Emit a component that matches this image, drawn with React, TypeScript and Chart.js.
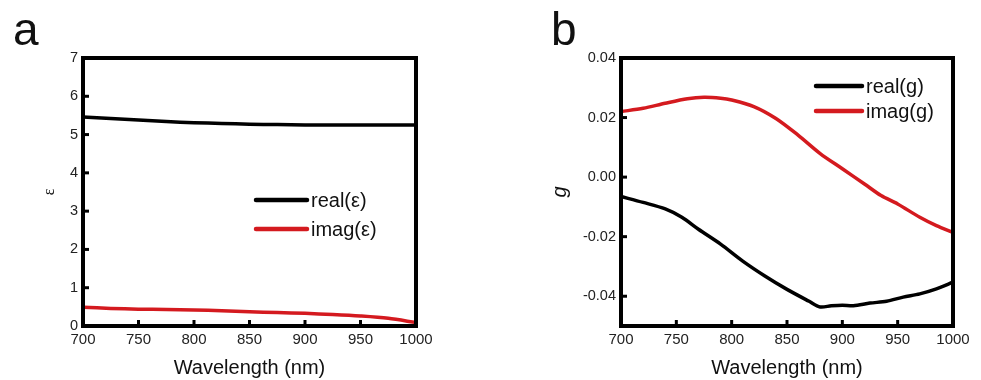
import React, { useEffect, useRef } from 'react';
import { Chart, registerables } from 'chart.js';

Chart.register(...registerables);

// Panel a: permittivity
const wavelengthsA = [700, 725, 750, 775, 800, 825, 850, 875, 900, 925, 950, 975, 1000];
const realEpsilon = [5.46, 5.42, 5.38, 5.34, 5.31, 5.29, 5.27, 5.26, 5.25, 5.25, 5.25, 5.25, 5.25];
const imagEpsilon = [0.49, 0.46, 0.44, 0.43, 0.42, 0.40, 0.37, 0.35, 0.33, 0.30, 0.26, 0.20, 0.09];
const xTicks = [700, 750, 800, 850, 900, 950, 1000];
const yTicksA = [0, 1, 2, 3, 4, 5, 6, 7];

// Panel b: g
const wavelengthsB = [700, 720, 740, 755, 770, 790, 810, 830, 850, 870, 880, 890, 900, 910, 925, 940, 955, 970, 985, 1000];
const realG = [-0.0065, -0.0085, -0.0107, -0.0135, -0.0175, -0.0225, -0.0282, -0.0332, -0.0377, -0.0417, -0.0436, -0.0432, -0.043, -0.0432, -0.0423, -0.0417, -0.0403, -0.0392, -0.0375, -0.0353];
const wavelengthsBi = [700, 720, 740, 760, 775, 790, 800, 820, 840, 860, 880, 900, 920, 935, 950, 970, 985, 1000];
const imagG = [0.022, 0.0231, 0.0248, 0.0263, 0.0268, 0.0265, 0.0259, 0.0237, 0.0197, 0.0141, 0.0079, 0.0028, -0.0023, -0.0062, -0.009, -0.0135, -0.0163, -0.0186];
const yTicksB = [-0.04, -0.02, 0.0, 0.02, 0.04];

const SANS = '"Liberation Sans", Arial, sans-serif';
const RED = '#d41a1f';

const framePlugin = {
  id: 'frame',
  afterDatasetsDraw(chart: any, _args: any, opts: any) {
    const { ctx, chartArea, scales } = chart;
    const { left, top, right, bottom } = chartArea;
    ctx.save();
    ctx.strokeStyle = '#000';
    ctx.lineWidth = 4;
    ctx.strokeRect(left, top, right - left, bottom - top);
    ctx.lineWidth = 3;
    scales.x.ticks.forEach((t: any) => {
      const px = scales.x.getPixelForValue(t.value);
      ctx.beginPath();
      ctx.moveTo(px, bottom);
      ctx.lineTo(px, bottom - 6);
      ctx.stroke();
    });
    scales.y.ticks.forEach((t: any) => {
      const py = scales.y.getPixelForValue(t.value);
      ctx.beginPath();
      ctx.moveTo(left, py);
      ctx.lineTo(left + 6, py);
      ctx.stroke();
    });
    // panel letter
    ctx.fillStyle = '#111';
    ctx.font = `46px ${SANS}`;
    ctx.textBaseline = 'alphabetic';
    ctx.textAlign = 'left';
    ctx.fillText(opts.letter, 13, 45);
    // legend
    const lg = opts.legend;
    ctx.font = `20px ${SANS}`;
    ctx.textBaseline = 'middle';
    ctx.lineCap = 'round';
    chart.data.datasets.forEach((ds: any, i: number) => {
      const y = lg.y + i * lg.dy;
      ctx.strokeStyle = ds.borderColor;
      ctx.lineWidth = 4.5;
      ctx.beginPath();
      ctx.moveTo(lg.x, y);
      ctx.lineTo(lg.x + lg.len, y);
      ctx.stroke();
      ctx.fillStyle = '#111';
      ctx.fillText(ds.label, lg.x + lg.len + 4, y + 1);
    });
    ctx.restore();
  },
};

function toPts(xs: number[], ys: number[]) {
  return xs.map((x, i) => ({ x, y: ys[i] }));
}

function makeConfig(p: any) {
  return {
    type: 'line',
    data: {
      datasets: p.datasets.map((d: any) => ({
        label: d.label,
        data: d.data,
        borderColor: d.color,
        backgroundColor: d.color,
        borderWidth: 3.5,
        pointRadius: 0,
        tension: 0.3,
        fill: false,
      })),
    },
    options: {
      responsive: false,
      animation: false,
      layout: { padding: { left: 0, top: 58, right: p.padRight, bottom: 0 } },
      plugins: {
        legend: { display: false },
        tooltip: { enabled: false },
        frame: { letter: p.letter, legend: p.legend },
      },
      scales: {
        x: {
          type: 'linear',
          min: 700,
          max: 1000,
          grid: { display: false, drawTicks: false },
          border: { display: false },
          afterBuildTicks: (s: any) => { s.ticks = xTicks.map((v) => ({ value: v })); },
          afterFit: (s: any) => { s.height = 54; },
          ticks: {
            color: '#222',
            font: { family: SANS, size: 15 },
            padding: 5,
            maxRotation: 0,
            callback: (v: any) => String(v),
          },
          title: {
            display: true,
            text: 'Wavelength (nm)',
            color: '#111',
            font: { family: SANS, size: 20 },
            padding: { top: 0, bottom: 0 },
          },
        },
        y: {
          type: 'linear',
          min: p.yMin,
          max: p.yMax,
          grid: { display: false, drawTicks: false },
          border: { display: false },
          afterBuildTicks: (s: any) => { s.ticks = p.yTicks.map((v: number) => ({ value: v })); },
          afterFit: (s: any) => { s.width = 83; },
          ticks: {
            color: '#222',
            font: { family: SANS, size: 14.5 },
            padding: 5,
            callback: p.yFmt,
          },
          title: {
            display: true,
            text: p.yTitle,
            color: '#111',
            font: p.yTitleFont,
            padding: { top: p.yTitlePad, bottom: 0 },
          },
        },
      },
    },
    plugins: [framePlugin],
  };
}

function Panel(props: any) {
  const ref = useRef<HTMLCanvasElement>(null);
  useEffect(() => {
    const chart = new Chart(ref.current as HTMLCanvasElement, makeConfig(props.cfg) as any);
    return () => chart.destroy();
  }, []);
  return (
    <canvas
      ref={ref}
      width={props.width}
      height={380}
      style={{ position: 'absolute', left: props.left, top: 0, width: props.width, height: 380 }}
    />
  );
}

const cfgA = {
  letter: 'a',
  padRight: 74,
  yMin: 0,
  yMax: 7,
  yTicks: yTicksA,
  yFmt: (v: any) => String(v),
  yTitle: 'ε',
  yTitleFont: { family: '"Liberation Serif", "Times New Roman", serif', size: 16 },
  yTitlePad: 40,
  legend: { x: 256, y: 200, dy: 29, len: 51 },
  datasets: [
    { label: 'real(ε)', data: toPts(wavelengthsA, realEpsilon), color: '#000' },
    { label: 'imag(ε)', data: toPts(wavelengthsA, imagEpsilon), color: RED },
  ],
};

const cfgB = {
  letter: 'b',
  padRight: 28,
  yMin: -0.05,
  yMax: 0.04,
  yTicks: yTicksB,
  yFmt: (v: any) => Number(v).toFixed(2),
  yTitle: 'g',
  yTitleFont: { family: SANS, size: 20, style: 'italic' },
  yTitlePad: 10,
  legend: { x: 278, y: 86, dy: 25, len: 46 },
  datasets: [
    { label: 'real(g)', data: toPts(wavelengthsB, realG), color: '#000' },
    { label: 'imag(g)', data: toPts(wavelengthsBi, imagG), color: RED },
  ],
};

export default function App() {
  return (
    <div style={{ position: 'absolute', left: 0, top: 0, width: 981, height: 380, background: '#fff' }}>
      <Panel left={0} width={490} cfg={cfgA} />
      <Panel left={538} width={443} cfg={cfgB} />
    </div>
  );
}
